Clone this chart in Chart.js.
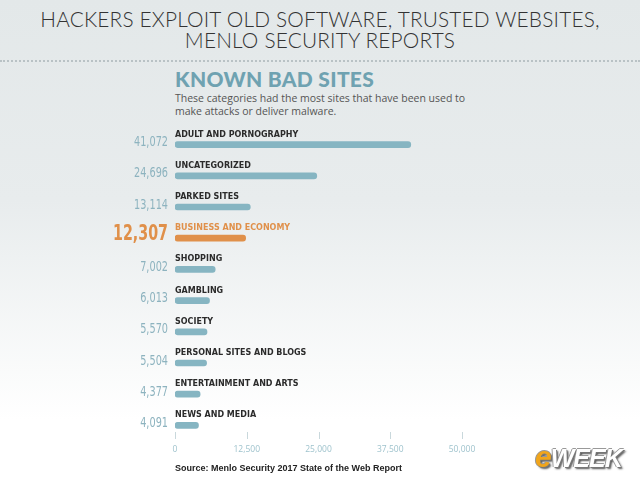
<!DOCTYPE html>
<html>
<head>
<meta charset="utf-8">
<script src="https://cdn.jsdelivr.net/npm/chart.js@4/dist/chart.umd.min.js"></script>
<style>
  html, body { margin: 0; padding: 0; }
  body {
    width: 640px; height: 480px; position: relative; overflow: hidden;
    background: linear-gradient(to bottom, #e3e8e9 0px, #e8eced 200px, #ffffff 420px);
    font-family: "Open Sans", sans-serif;
  }
  .title {
    position: absolute; left: 0; top: 8px; width: 640px; text-align: center;
    font-family: "Lato", sans-serif; font-weight: 300; font-size: 20.8px; line-height: 21px;
    color: #333; letter-spacing: 0.2px;
  }
  .dots {
    position: absolute; left: 0; top: 60px; width: 640px; height: 0;
    border-top: 2px dotted #b9c2c5;
  }
  .head {
    position: absolute; left: 175px; top: 66px;
    font-family: "Lato", sans-serif; font-weight: 900; font-size: 21px; color: #6fa2b1;
    letter-spacing: 0.3px;
  }
  .sub {
    position: absolute; left: 175px; top: 92px; width: 300px;
    font-family: "Open Sans", sans-serif; font-size: 10.5px; line-height: 13px; color: #555;
  }
  .source {
    position: absolute; left: 175px; top: 463px;
    font-family: "Liberation Sans", Arial, sans-serif; font-weight: bold; font-size: 9px; color: #222;
  }
  .logo {
    position: absolute; left: 535px; top: 440px;
    font-family: "Liberation Sans", Arial, sans-serif; font-weight: bold; font-style: italic;
    font-size: 25px; letter-spacing: -1px;
    color: #fff; text-shadow: 1px 1px 0 #777, -1px 0 0 #999, 0 -1px 0 #999, 2px 2px 2px #555;
  }
  .logo span { color: #f0a51c; font-size: 30px; }
  #chart { position: absolute; left: 0; top: 0; }
</style>
</head>
<body>
<div class="title">HACKERS EXPLOIT OLD SOFTWARE, TRUSTED WEBSITES,<br>MENLO SECURITY REPORTS</div>
<div class="dots"></div>
<div class="head">KNOWN BAD SITES</div>
<div class="sub">These categories had the most sites that have been used to make attacks or deliver malware.</div>
<canvas id="chart" width="640" height="480"></canvas>
<div class="source">Source: Menlo Security 2017 State of the Web Report</div>
<div class="logo"><span>e</span>WEEK</div>
<script>
// Category names and site counts
const categories = [
    'ADULT AND PORNOGRAPHY',
    'UNCATEGORIZED',
    'PARKED SITES',
    'BUSINESS AND ECONOMY',
    'SHOPPING',
    'GAMBLING',
    'SOCIETY',
    'PERSONAL SITES AND BLOGS',
    'ENTERTAINMENT AND ARTS',
    'NEWS AND MEDIA'
];
const siteCounts = [41072, 24696, 13114, 12307, 7002, 6013, 5570, 5504, 4377, 4091];
const highlightIndex = 3;
const xTicks = [0, 12500, 25000, 37500, 50000];

const blue = '#86b5c2';
const orange = '#e0904a';
const barColors = siteCounts.map((v, i) => i === highlightIndex ? orange : blue);

// Draws category names above bars, values on the left, and small tick marks
const labelPlugin = {
    id: 'labelPlugin',
    afterDatasetsDraw(chart) {
        const ctx = chart.ctx;
        const yScale = chart.scales.y;
        const xScale = chart.scales.x;
        const x0 = xScale.getPixelForValue(0);

        ctx.save();
        categories.forEach((name, i) => {
            const y = yScale.getPixelForValue(i);
            const hl = i === highlightIndex;

            ctx.textAlign = 'left';
            ctx.textBaseline = 'middle';
            ctx.fillStyle = hl ? orange : '#2b2b2b';
            ctx.font = 'bold 8px "DejaVu Sans", sans-serif';
            ctx.fillText(name, x0, y - 10);

            const txt = siteCounts[i].toLocaleString('en-US');
            ctx.save();
            ctx.textAlign = 'right';
            if (hl) {
                ctx.translate(168, y - 4);
                ctx.scale(0.72, 1);
                ctx.fillStyle = orange;
                ctx.font = 'bold 22px "Liberation Sans Narrow", "DejaVu Sans Condensed", sans-serif';
            } else {
                ctx.translate(168, y - 2);
                ctx.scale(0.8, 1);
                ctx.fillStyle = '#8db3bf';
                ctx.font = '13.5px "Liberation Sans Narrow", "DejaVu Sans Condensed", sans-serif';
            }
            ctx.fillText(txt, 0, 0);
            ctx.restore();
        });

        // axis tick marks
        ctx.strokeStyle = '#c9d8dc';
        ctx.lineWidth = 1;
        xTicks.forEach(v => {
            const x = Math.round(xScale.getPixelForValue(v)) + 0.5;
            ctx.beginPath();
            ctx.moveTo(x, chart.chartArea.bottom - 9);
            ctx.lineTo(x, chart.chartArea.bottom - 2);
            ctx.stroke();
        });
        ctx.restore();
    }
};

const ctx = document.getElementById('chart');
new Chart(ctx, {
    type: 'bar',
    data: {
        labels: categories,
        datasets: [{
            data: siteCounts,
            backgroundColor: barColors,
            barThickness: 6,
            borderRadius: 3,
            borderSkipped: false
        }]
    },
    options: {
        indexAxis: 'y',
        responsive: false,
        animation: false,
        layout: { padding: { left: 175, right: 178, top: 129, bottom: 19 } },
        plugins: {
            legend: { display: false },
            tooltip: { enabled: false }
        },
        scales: {
            y: { display: false },
            x: {
                min: 0,
                max: 50000,
                afterFit: (scale) => { scale.height = 20; },
                afterBuildTicks: (scale) => { scale.ticks = xTicks.map(v => ({ value: v })); },
                grid: { display: false, drawTicks: false },
                border: { display: false },
                ticks: {
                    padding: 3,
                    color: '#9fc3cd',
                    font: { family: '"Open Sans", sans-serif', size: 8.5 },
                    callback: (v) => v.toLocaleString('en-US')
                }
            }
        }
    },
    plugins: [labelPlugin]
});
</script>
</body>
</html>
